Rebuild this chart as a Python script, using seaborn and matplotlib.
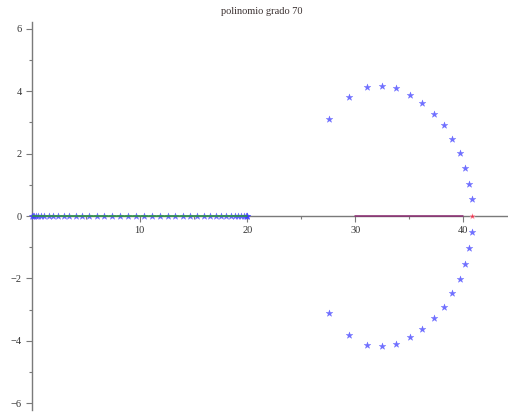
import matplotlib
matplotlib.use("Agg")
import matplotlib.pyplot as plt
import seaborn as sns
import pandas as pd
from matplotlib.ticker import MultipleLocator


# real roots clustered on [0, 20]
real_roots = [0.007, 0.063, 0.174, 0.341, 0.561, 0.835, 1.159, 1.533, 1.955, 2.421,
              2.929, 3.476, 4.062, 4.680, 5.327, 6.000, 6.697, 7.412, 8.141, 8.880,
              9.626, 10.374, 11.120, 11.859, 12.588, 13.303, 14.000, 14.673, 15.320,
              15.938, 16.524, 17.071, 17.579, 18.045, 18.467, 18.841, 19.165, 19.439,
              19.659, 19.826, 19.937, 19.993]

# complex roots on the right (upper half, then lower half)
arc_re = [27.59, 29.42, 31.06, 32.46, 33.83, 35.11, 36.25, 37.31, 38.21, 39.02,
          39.70, 40.20, 40.61, 40.82]
arc_im_up = [3.12, 3.82, 4.12, 4.18, 4.10, 3.89, 3.63, 3.28, 2.91, 2.48,
             2.03, 1.55, 1.04, 0.54]
arc_im_down = [-3.12, -3.82, -4.12, -4.17, -4.10, -3.89, -3.63, -3.28, -2.92, -2.48,
               -2.02, -1.54, -1.04, -0.50]

red_root = (40.86, 0.0)
green_seg = [0, 20]
purple_seg = [30, 40]

sns.set_theme(style="white")
plt.rcParams['font.family'] = ['Liberation Serif', 'DejaVu Serif']

roots = pd.DataFrame({
    "re": real_roots + arc_re + arc_re,
    "im": [0.0] * len(real_roots) + arc_im_up + arc_im_down,
})

fig = plt.figure(figsize=(5.08, 4.12), dpi=100)
ax = fig.add_axes([32 / 508, 2 / 412, 475 / 508, 388 / 412])

sns.scatterplot(data=roots, x="re", y="im", marker="*", s=26, color="#3535ff",
                alpha=0.7, linewidth=0.3, edgecolor="#5050ff", ax=ax,
                clip_on=False, zorder=3)
sns.lineplot(x=green_seg, y=[0, 0], color="#2e9a3a", lw=1.1, ax=ax, zorder=4)
sns.lineplot(x=purple_seg, y=[0, 0], color="#8a2a70", lw=1.1, ax=ax, zorder=4)
sns.scatterplot(x=[red_root[0]], y=[red_root[1]], marker="*", s=26, color="#ff2040",
                alpha=0.8, linewidth=0.3, ax=ax, zorder=5, clip_on=False)

ax.set_xlim(0, 44.1)
ax.set_ylim(-6.22, 6.22)

for side in ["top", "right"]:
    ax.spines[side].set_visible(False)
ax.spines["left"].set_position(("data", 0))
ax.spines["bottom"].set_position(("data", 0))
for side in ["left", "bottom"]:
    ax.spines[side].set_color("#7a7a7a")
    ax.spines[side].set_linewidth(1.0)

ax.xaxis.set_major_locator(MultipleLocator(10))
ax.xaxis.set_minor_locator(MultipleLocator(5))
ax.yaxis.set_major_locator(MultipleLocator(2))
ax.yaxis.set_minor_locator(MultipleLocator(1))
ax.set_xticks([10, 20, 30, 40])
ax.set_yticks([-6, -4, -2, 0, 2, 4, 6])
ax.tick_params(which="both", bottom=True, left=True, top=False, right=False)
ax.tick_params(which="major", direction="out", length=4, width=0.8, color="#7a7a7a",
               labelsize=7.5, labelcolor="#333333", pad=3.5)
ax.tick_params(which="minor", direction="out", length=2.5, width=0.8, color="#7a7a7a")
ax.set_xlabel("")
ax.set_ylabel("")

fig.text(262 / 508, 1 - 12 / 412, "polinomio grado 70", ha="center", va="center",
         fontsize=7.5, color="#3a3030")

fig.savefig("out.png", dpi=100)
